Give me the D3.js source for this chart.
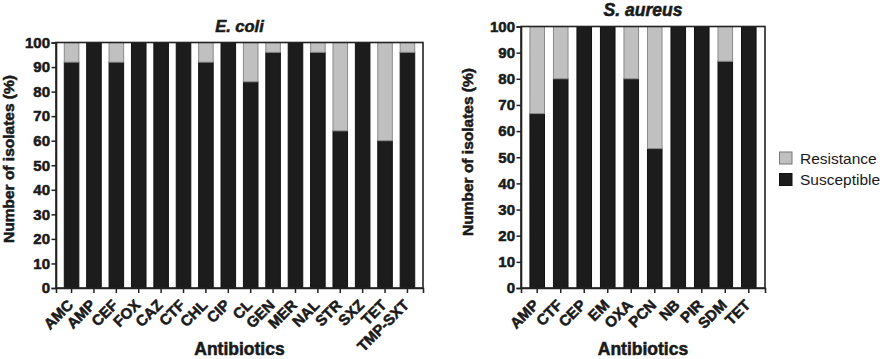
<!DOCTYPE html>
<html><head><meta charset="utf-8">
<script src="https://cdn.jsdelivr.net/npm/d3@7"></script>
<style>
body{margin:0;background:#fff;}
svg{display:block;font-family:"Liberation Sans",Arial,sans-serif;}
</style></head>
<body><svg id="c" width="883" height="359"></svg>
<script>
const ecoliCategories = ["AMC","AMP","CEF","FOX","CAZ","CTF","CHL","CIP","CL","GEN","MER","NAL","STR","SXZ","TET","TMP-SXT"];
const ecoliSusceptible = [92,100,92,100,100,100,92,100,84,96,100,96,64,100,60,96];
const ecoliResistance  = [8,0,8,0,0,0,8,0,16,4,0,4,36,0,40,4];

const saureusCategories = ["AMP","CTF","CEP","EM","OXA","PCN","NB","PIR","SDM","TET"];
const saureusSusceptible = [66.7,80,100,100,80,53.3,100,100,86.7,100];
const saureusResistance  = [33.3,20,0,0,20,46.7,0,0,13.3,0];

const yTicks = [0,10,20,30,40,50,60,70,80,90,100];
const seriesNames = ["Susceptible","Resistance"];
const colors = {Susceptible:"#1c1c1c", Resistance:"#c0c0c0"};
const strokes = {Susceptible:"#111", Resistance:"#8a8a8a"};
const ink = "#1a1a1a";

const svg = d3.select("#c");

function heavy(sel, size){
  sel.attr("font-size", size).attr("font-weight","bold").attr("fill", ink)
    .attr("stroke", ink).attr("stroke-width", 0.55).attr("paint-order","stroke")
    .attr("font-family","'Liberation Sans',Arial,sans-serif");
  return sel;
}

function panel(cfg){
  const {cats, sus, res, x0, x1, y0, y1, title, titleY, titleSize, yTitleX, pi, po} = cfg;
  const g = svg.append("g");
  const x = d3.scaleBand().domain(cats).range([x0, x1]).paddingInner(pi).paddingOuter(po);
  const y = d3.scaleLinear().domain([0,100]).range([y1, y0]);
  const rows = cats.map((c,i)=>({cat:c, Susceptible:sus[i], Resistance:res[i]}));
  const stack = d3.stack().keys(seriesNames)(rows);
  stack.forEach(s=>{
    g.append("g").selectAll("rect").data(s).join("rect")
      .attr("x", d=>x(d.data.cat))
      .attr("width", x.bandwidth())
      .attr("y", d=>y(d[1]))
      .attr("height", d=>Math.max(0, y(d[0])-y(d[1])))
      .attr("fill", colors[s.key])
      .attr("stroke", d=> (d[1]-d[0])>0 ? strokes[s.key] : "none")
      .attr("stroke-width", 1);
  });
  // frame
  g.append("rect").attr("x",x0).attr("y",y0).attr("width",x1-x0).attr("height",y1-y0)
    .attr("fill","none").attr("stroke","#222").attr("stroke-width",1.6);
  // y axis
  const ya = g.append("g").attr("transform",`translate(${x0},0)`)
    .call(d3.axisLeft(y).tickValues(yTicks).tickSize(4.5).tickPadding(1.5).tickFormat(d3.format("d")));
  ya.select(".domain").attr("stroke","#222").attr("stroke-width",1.6);
  ya.selectAll(".tick line").attr("stroke","#222").attr("stroke-width",1.5);
  heavy(ya.selectAll("text"), 15);
  // x axis
  const xa = g.append("g").attr("transform",`translate(0,${y1})`)
    .call(d3.axisBottom(x).tickSize(5).tickPadding(0));
  xa.select(".domain").attr("stroke","#222").attr("stroke-width",1.6);
  xa.selectAll(".tick line").attr("stroke","#222").attr("stroke-width",1.5);
  heavy(xa.selectAll("text"), 15)
    .attr("text-anchor","end").attr("x",0).attr("y",0).attr("dy","0")
    .attr("transform","translate(2.5,18) rotate(-45)");
  // title
  heavy(g.append("text"), titleSize).attr("x",(x0+x1)/2).attr("y",titleY).attr("text-anchor","middle")
    .attr("font-style","italic").text(title);
  // x title
  heavy(g.append("text"), 17.5).attr("x",(x0+x1)/2).attr("y",355).attr("text-anchor","middle").text("Antibiotics");
  // y title
  heavy(g.append("text"), 15.5).attr("transform",`translate(${yTitleX},${cfg.yTitleY}) rotate(-90)`)
    .attr("text-anchor","middle").text("Number of isolates (%)");
}

panel({cats:ecoliCategories, sus:ecoliSusceptible, res:ecoliResistance,
  x0:56, x1:423, y0:42.5, y1:288, title:"E. coli", titleY:32, titleSize:16.5, yTitleX:14, yTitleY:159, pi:0.35, po:0.37});
panel({cats:saureusCategories, sus:saureusSusceptible, res:saureusResistance,
  x0:521, x1:765, y0:26.5, y1:288, title:"S. aureus", titleY:16, titleSize:17.5, yTitleX:473, yTitleY:152, pi:0.38, po:0.38});

// legend
const leg = svg.append("g");
const legendItems = ["Resistance","Susceptible"];
legendItems.forEach((k,i)=>{
  const yy = 152 + i*21.5;
  leg.append("rect").attr("x",779.5).attr("y",yy).attr("width",12.5).attr("height",12)
    .attr("fill",colors[k]).attr("stroke", k==="Resistance" ? "#777" : "#111").attr("stroke-width",1);
  leg.append("text").attr("x",800).attr("y",yy+11.5).attr("font-size",15.5).attr("fill",ink).text(k);
});
</script></body></html>
